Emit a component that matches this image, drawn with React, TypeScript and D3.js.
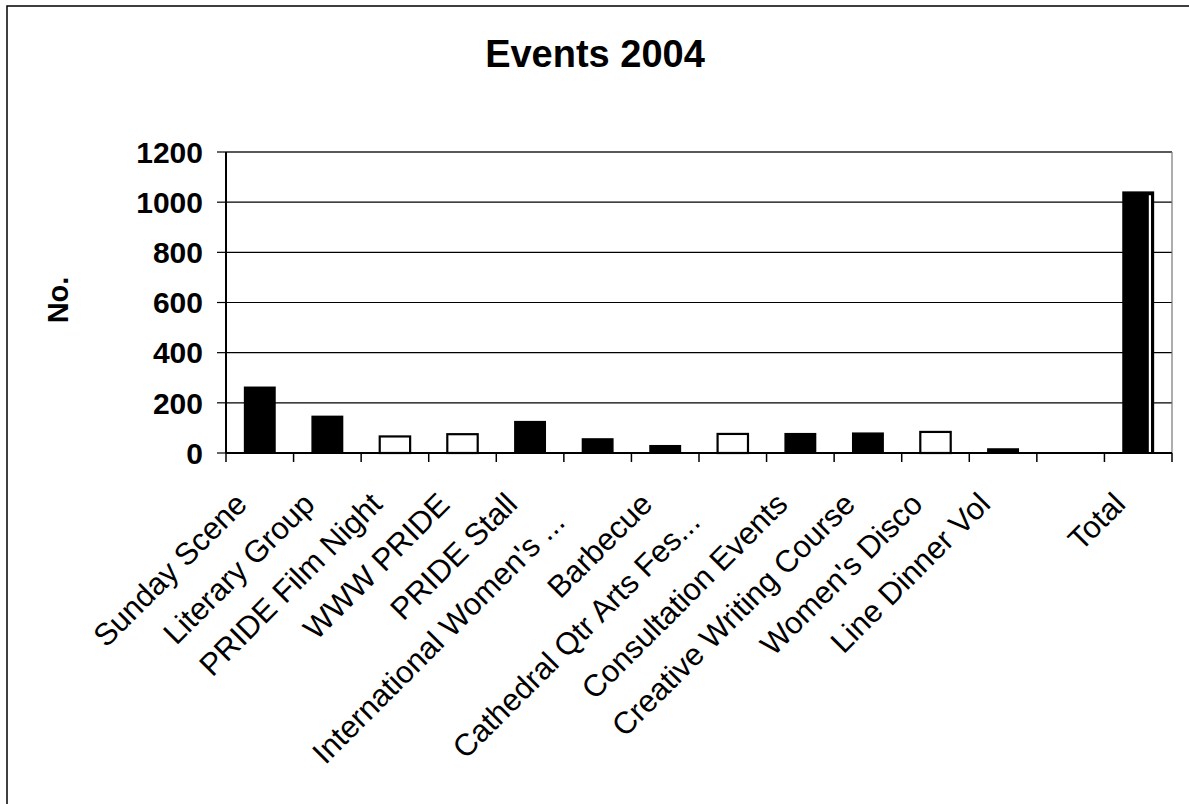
import React from "react";
import * as d3 from "d3";

// ---- data ----
const categories: string[] = [
  "Sunday Scene",
  "Literary Group",
  "PRIDE Film Night",
  "WWW PRIDE",
  "PRIDE Stall",
  "International Women's ...",
  "Barbecue",
  "Cathedral Qtr Arts Fes...",
  "Consultation Events",
  "Creative Writing Course",
  "Women's Disco",
  "Line Dinner Vol",
  "",
  "Total",
];
// black-filled series (null = not in this series)
const blackValues: (number | null)[] = [262, 146, null, null, 125, 56, 29, null, 77, 79, null, 16, 0, 1040];
// white (outlined) series
const whiteValues: (number | null)[] = [null, null, 66, 75, null, null, null, 76, null, null, 84, null, null, null];
const yTicks: number[] = [0, 200, 400, 600, 800, 1000, 1200];
const title = "Events 2004";
const yTitle = "No.";

const W = 1189;
const H = 804;
const FONT = "'Liberation Sans', Arial, Helvetica, sans-serif";

export default function App() {
  const left = 226, right = 1172, top = 152, bottom = 453;
  const x = d3
    .scaleBand<number>()
    .domain(d3.range(categories.length))
    .range([left, right])
    .paddingInner(0.55)
    .paddingOuter(0.275);
  const y = d3.scaleLinear().domain([0, 1200]).range([bottom, top]);
  const step = x.step();
  const bw = x.bandwidth();
  const boundary = (i: number) => left + i * step;

  return (
    <svg
      width={W}
      height={H}
      style={{ position: "absolute", left: 0, top: 0, background: "#fff" }}
      fontFamily={FONT}
    >
      {/* outer frame */}
      <rect x={7} y={6} width={W + 10} height={H + 10} fill="none" stroke="#000" strokeWidth={1.5} />

      {/* title */}
      <text x={595} y={67} textAnchor="middle" fontSize={38} fontWeight="bold" fill="#000">
        {title}
      </text>

      {/* y axis title */}
      <text
        transform={`translate(68,300) rotate(-90)`}
        textAnchor="middle"
        fontSize={29}
        fontWeight="bold"
        fill="#000"
      >
        {yTitle}
      </text>

      {/* gridlines */}
      {yTicks.filter((t) => t > 0 && t < 1200).map((t) => (
        <line key={"g" + t} x1={left} x2={right} y1={y(t)} y2={y(t)} stroke="#000" strokeWidth={1.2} />
      ))}
      {/* plot border top / right */}
      <line x1={left} x2={right} y1={y(1200)} y2={y(1200)} stroke="#222" strokeWidth={1.5} />
      <line x1={right} x2={right} y1={top} y2={bottom} stroke="#777" strokeWidth={1.2} />

      {/* y ticks + labels */}
      {yTicks.map((t) => (
        <g key={"yt" + t}>
          <line x1={left - 9} x2={left} y1={y(t)} y2={y(t)} stroke="#000" strokeWidth={1.2} />
          <text
            x={203}
            y={y(t)}
            dy="0.36em"
            textAnchor="end"
            fontSize={30}
            fontWeight="bold"
            fill="#000"
          >
            {t}
          </text>
        </g>
      ))}

      {/* bars */}
      {categories.map((_, i) => {
        const b = blackValues[i];
        const w = whiteValues[i];
        const x0 = x(i)!;
        return (
          <g key={"bar" + i}>
            {w !== null && w > 0 && (
              <rect x={x0} y={y(w)} width={bw} height={y(0) - y(w)} fill="#fff" stroke="#000" strokeWidth={2.2} />
            )}
            {b !== null && b > 0 && (
              <rect x={x0} y={y(b)} width={bw} height={y(0) - y(b)} fill="#000" stroke="#000" strokeWidth={1.5} />
            )}
            {b !== null && b > 500 && (
              <line
                x1={x0 + bw - 3.5}
                x2={x0 + bw - 3.5}
                y1={y(b) + 3}
                y2={y(0) - 1}
                stroke="#fff"
                strokeWidth={2.2}
              />
            )}
          </g>
        );
      })}

      {/* axes lines */}
      <line x1={left} x2={left} y1={top} y2={bottom} stroke="#000" strokeWidth={2} />
      <line x1={left} x2={right} y1={bottom} y2={bottom} stroke="#000" strokeWidth={2} />

      {/* x ticks */}
      {d3.range(categories.length + 1).map((i) => (
        <line key={"xt" + i} x1={boundary(i)} x2={boundary(i)} y1={bottom} y2={bottom + 9} stroke="#000" strokeWidth={1.5} />
      ))}

      {/* category labels */}
      {categories.map((c, i) => {
        const cx = x(i)! + bw / 2;
        const trunc = c.endsWith("...");
        const ax = cx - 11 + (trunc ? -20 : 0);
        const ay = bottom + 53 + (trunc ? 18 : 0);
        return (
          <text
            key={"lab" + i}
            transform={`translate(${ax},${ay}) rotate(-45)`}
            textAnchor="end"
            fontSize={31}
            fill="#000"
          >
            {c}
          </text>
        );
      })}
    </svg>
  );
}
